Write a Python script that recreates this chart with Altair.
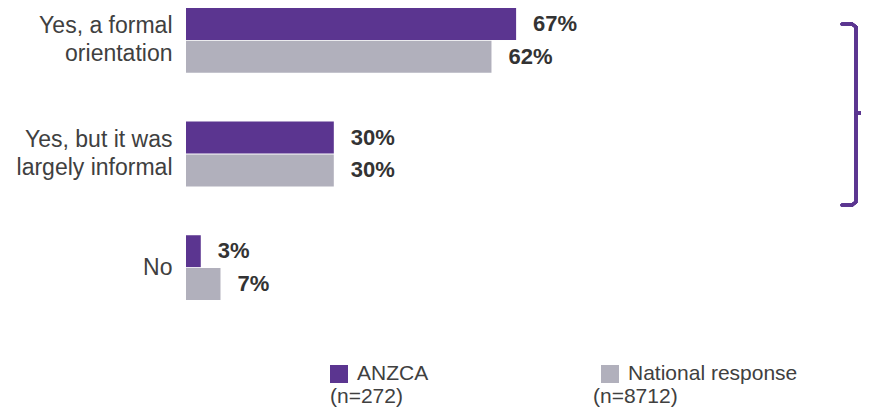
import altair as alt
import pandas as pd

categories = ["Yes, a formal\norientation", "Yes, but it was\nlargely informal", "No"]
series = ["ANZCA", "National response"]
anzca = [67, 30, 3]
national = [62, 30, 7]
sample_sizes = ["(n=272)", "(n=8712)"]
colors = ["#5B3590", "#B1B0BC"]

rows = []
for i, c in enumerate(categories):
    rows.append({"category": c, "series": series[0], "value": anzca[i]})
    rows.append({"category": c, "series": series[1], "value": national[i]})
df = pd.DataFrame(rows)
df["label"] = df["value"].astype(str) + "%"

FONT = "Liberation Sans"
W, H = 675, 292

y_enc = alt.Y("category:N", sort=categories, title=None,
              scale=alt.Scale(paddingInner=0.43, paddingOuter=0),
              axis=alt.Axis(domain=False, ticks=False, labelPadding=14,
                            labelFontSize=23, labelColor="#404040", labelFont=FONT,
                            labelLineHeight=28, labelExpr="split(datum.label, '\\n')",
                            labelOffset={"condition": {"test": "indexof(datum.value, '\\n') >= 0",
                                                       "value": -14}, "value": 0},
                            labelAlign="right", labelBaseline="middle", labelLimit=300))
yoff = alt.YOffset("series:N", sort=series, scale=alt.Scale(paddingInner=0.03, paddingOuter=0))
x_enc = alt.X("value:Q", scale=alt.Scale(domain=[0, 137], nice=False, zero=True), axis=None)
color_enc = alt.Color("series:N", sort=series,
                      scale=alt.Scale(domain=series, range=colors), legend=None)

base = alt.Chart(df)
bars = base.mark_bar().encode(y=y_enc, yOffset=yoff, x=x_enc, color=color_enc)
labels = base.mark_text(align="left", baseline="middle", dx=17, fontSize=22,
                        fontWeight="bold", color="#333333", font=FONT).encode(
    y=alt.Y("category:N", sort=categories), yOffset=yoff, x=x_enc, text="label:N")

# bracket (decoration)
purple = colors[0]
def seg(x1, x2, y1, y2):
    return alt.Chart(df).mark_rule(color=purple, strokeWidth=3, strokeCap="round").encode(
        x=alt.value(x1), x2=alt.value(x2), y=alt.value(y1), y2=alt.value(y2))

bracket = [
    seg(670, 670, 19, 192),
    seg(656, 666, 16, 16),
    seg(666, 670, 16, 19),
    seg(656, 666, 197, 197),
    seg(666, 670, 197, 194),
    seg(670, 683, 105, 105),
]

# custom legend
leg_df = pd.DataFrame({"series": series, "n": sample_sizes})
def legend_entry(i, sx, tx, nx):
    d = leg_df.iloc[[i]]
    sq = alt.Chart(d).mark_rect(color=colors[i]).encode(
        x=alt.value(sx), x2=alt.value(sx + 18), y=alt.value(357), y2=alt.value(375))
    t = alt.Chart(d).mark_text(align="left", baseline="middle", fontSize=21,
                               color="#404040", font=FONT).encode(
        x=alt.value(tx), y=alt.value(366), text="series:N")
    n = alt.Chart(d).mark_text(align="left", baseline="middle", fontSize=21,
                               color="#404040", font=FONT).encode(
        x=alt.value(nx), y=alt.value(389), text="n:N")
    return [sq, t, n]

legend = legend_entry(0, 144, 171, 144) + legend_entry(1, 415, 442, 407)

chart = alt.layer(bars, labels, *bracket, *legend).properties(
    width=W, height=H,
    background="white",
    autosize=alt.AutoSizeParams(type="none"),
    padding={"left": 178, "top": 0, "right": 0, "bottom": 109},
).configure_view(strokeWidth=0)

chart.save("out.html", embed_options={"renderer": "svg", "actions": False})
